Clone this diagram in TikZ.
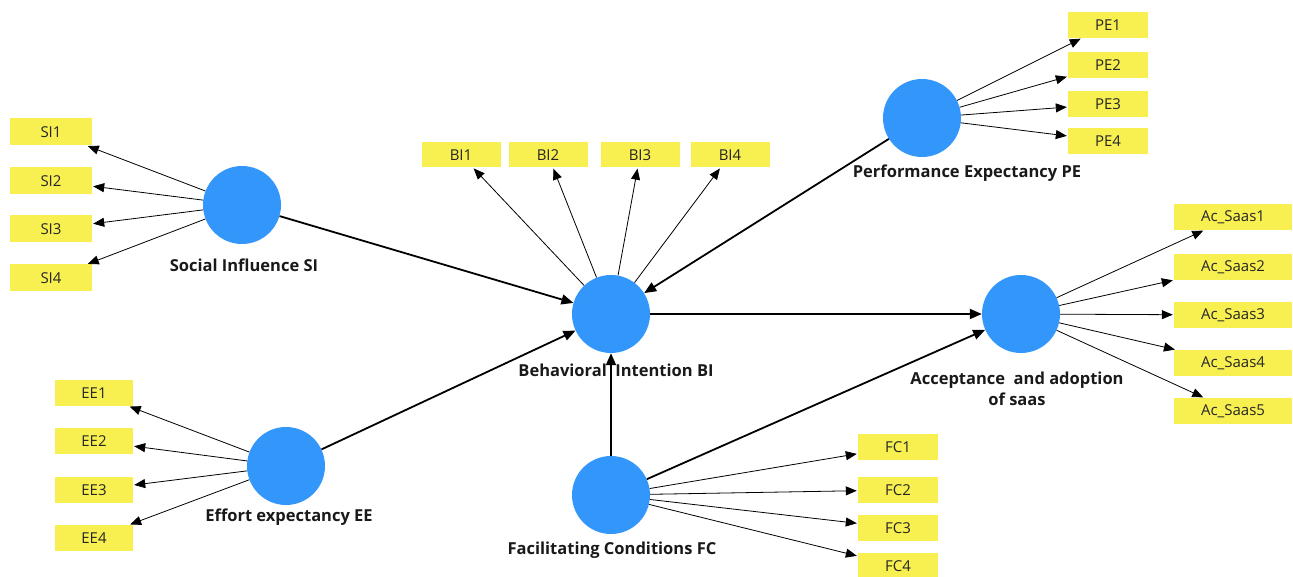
\documentclass[tikz,border=0pt]{standalone}
\usepackage{fontspec}
\setmainfont{Open Sans}
\usetikzlibrary{arrows.meta}
\definecolor{latent}{RGB}{51,150,250}
\definecolor{indy}{RGB}{248,240,80}
\begin{document}
\begin{tikzpicture}[x=1pt,y=-1pt,
 latentnode/.style={circle,fill=latent,minimum size=78pt,inner sep=0pt},
 indbox/.style={fill=indy,minimum width=80pt,minimum height=26pt,inner sep=0pt,text=black!85,font=\fontsize{15}{17}\selectfont},
 lbl/.style={font=\bfseries\fontsize{16.5}{21}\selectfont,align=center,text=black!90},
 loadarrow/.style={-{Triangle[length=11pt,width=9pt]},line width=0.8pt,shorten >=1pt},
 structarrow/.style={-{Triangle[length=12pt,width=10pt]},line width=1.8pt}]
\useasboundingbox (0,0) rectangle (1293,577);
% latent variables
\node[latentnode] (SI) at (242,205) {};
\node[latentnode] (BI) at (611,314) {};
\node[latentnode] (PE) at (922,118) {};
\node[latentnode] (AC) at (1021,314) {};
\node[latentnode] (EE) at (286,466) {};
\node[latentnode] (FC) at (611,495) {};
% labels
\node[lbl] (SIl) at (244,265) {Social Influence SI};
\node[lbl] (BIl) at (616,370) {Behavioral\ \ Intention BI};
\node[lbl] (PEl) at (967,173) {Performance Expectancy PE};
\node[lbl] (ACl) at (1017,389) {Acceptance\ \ and adoption\\of saas};
\node[lbl] (EEl) at (289,517) {Effort expectancy EE};
\node[lbl] (FCl) at (612,550) {Facilitating Conditions FC};
% indicators
\foreach \i/\y in {1/132,2/181,3/229,4/278}
  \node[indbox,minimum width=82pt,minimum height=27pt] (SI\i) at (51,\y) {SI\i};
\foreach \i/\x in {1/461,2/548,3/640,4/730}
  \node[indbox,minimum width=79pt,minimum height=25pt] (BI\i) at (\x,155) {BI\i};
\foreach \i/\y in {1/25,2/65,3/104,4/141}
  \node[indbox] (PE\i) at (1108,\y) {PE\i};
\foreach \i/\y in {1/217,2/267,3/315,4/363,5/411}
  \node[indbox,minimum width=118pt] (AC\i) at (1233,\y) {Ac\_Saas\i};
\foreach \i/\y in {1/393,2/441,3/490,4/538}
  \node[indbox,minimum width=78pt] (EE\i) at (94,\y) {EE\i};
\foreach \i/\y in {1/447,2/490,3/528,4/566}
  \node[indbox] (FC\i) at (898,\y) {FC\i};
% loadings
\foreach \i in {1,2,3,4} {
  \draw[loadarrow] (SI) -- (SI\i);
  \draw[loadarrow] (BI) -- (BI\i);
  \draw[loadarrow] (PE) -- (PE\i);
  \draw[loadarrow] (EE) -- (EE\i);
  \draw[loadarrow] (FC) -- (FC\i);
}
\foreach \i in {1,2,3,4,5}
  \draw[loadarrow] (AC) -- (AC\i);
% structural paths
\draw[structarrow] (SI) -- (BI);
\draw[structarrow] (EE) -- (BI);
\draw[structarrow] (PE) -- (BI);
\draw[structarrow] (FC) -- (BI);
\draw[structarrow] (BI) -- (AC);
\draw[structarrow] (FC) -- (AC);
\end{tikzpicture}
\end{document}
